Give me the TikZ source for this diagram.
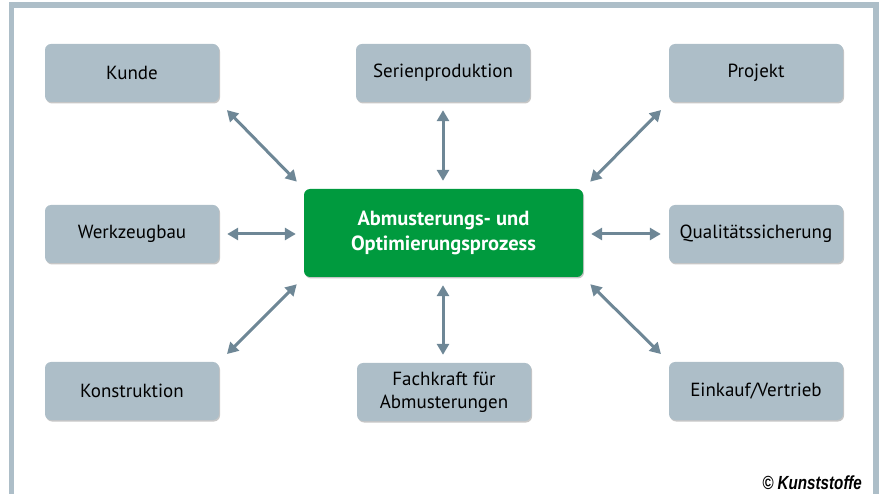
\documentclass[tikz,border=0pt]{standalone}
\usepackage{fontspec}
\setmainfont{PT Sans}
\newfontfamily\copyfont{Liberation Sans}
\usepackage{tikz}
\usetikzlibrary{arrows.meta,shadows}
\definecolor{boxgray}{HTML}{ADBEC8}
\definecolor{arrowgray}{HTML}{6E8796}
\definecolor{procgreen}{HTML}{009A3E}

\begin{document}
\begin{tikzpicture}[x=1pt, y=-1pt,
		feld/.style={draw=none, fill=boxgray, rounded corners=6pt, minimum width=174pt, minimum height=58pt, align=center, font=\fontsize{19}{23}\selectfont, drop shadow={opacity=0.45, shadow xshift=1pt, shadow yshift=-1.5pt}},
		prozess/.style={draw=none, fill=procgreen, text=white, rounded corners=6pt, minimum width=279pt, minimum height=88pt, align=center, font=\fontsize{20.5}{25}\selectfont\bfseries, drop shadow={opacity=0.45, shadow xshift=1pt, shadow yshift=-1.5pt}},
		pfeil/.style={draw=arrowgray, line width=3pt, {Triangle[length=11pt,width=12pt]}-{Triangle[length=11pt,width=12pt]}, shorten <=8pt, shorten >=8pt},
		schraeg/.style={pfeil, shorten <=11pt, shorten >=10pt}]
		\useasboundingbox (0,0) rectangle (884,494);
		% Rahmen
		\draw[boxgray, line width=5.5pt] (11.5,494) -- (11.5,5) -- (876,5) -- (876,494);
		% Mitte
		\node[prozess] (mitte) at (443.5,233) {Abmusterungs- und\\Optimierungsprozess};
		% Felder
		\node[feld] (kunde) at (132,73) {Kunde};
		\node[feld] (serie) at (443,73) {Serienproduktion};
		\node[feld] (projekt) at (756,73) {Projekt};
		\node[feld] (werkzeug) at (132,234) {Werkzeugbau};
		\node[feld] (qs) at (756,234) {Qualitätssicherung};
		\node[feld] (konstr) at (132,391) {Konstruktion};
		\node[feld] (fachkraft) at (444,392) {Fachkraft für\\Abmusterungen};
		\node[feld] (einkauf) at (756,391) {Einkauf/Vertrieb};
		% Pfeile
		\draw[schraeg] (kunde.south east) -- (mitte.north west);
		\draw[pfeil] (serie.south) -- (serie.south |- mitte.north);
		\draw[schraeg] (projekt.south west) -- (mitte.north east);
		\draw[pfeil] (werkzeug.east) -- (werkzeug.east -| mitte.west);
		\draw[pfeil] (qs.west) -- (qs.west -| mitte.east);
		\draw[schraeg] (konstr.north east) -- (mitte.south west);
		\draw[pfeil] (mitte.south -| serie.south) -- (fachkraft.north -| serie.south);
		\draw[schraeg] (einkauf.north west) -- (mitte.south east);
		% Quelle
		\node[anchor=south east, inner sep=0pt, xscale=0.8, transform shape, font=\copyfont\fontsize{19}{22}\selectfont\bfseries\itshape] (quelle) at (862,490) {© Kunststoffe};
	\end{tikzpicture}
\end{document}
